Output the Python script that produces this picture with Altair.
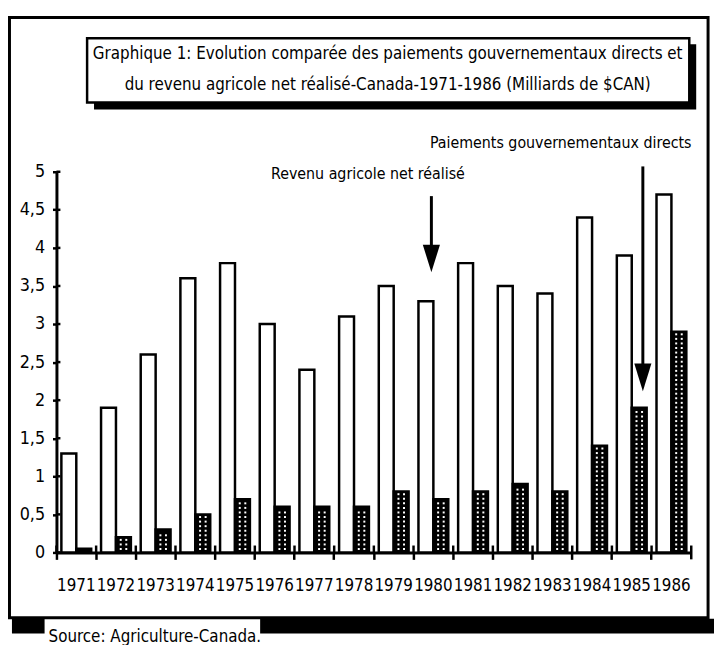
import altair as alt
import pandas as pd

# ---- data ----
YEARS = [str(y) for y in range(1971, 1987)]
REVENU = [1.3, 1.9, 2.6, 3.6, 3.8, 3.0, 2.4, 3.1, 3.5, 3.3, 3.8, 3.5, 3.4, 4.4, 3.9, 4.7]
PAIEMENTS = [0.05, 0.2, 0.3, 0.5, 0.7, 0.6, 0.6, 0.6, 0.8, 0.7, 0.8, 0.9, 0.8, 1.4, 1.9, 2.9]
SERIES = ["Revenu agricole net réalisé", "Paiements gouvernementaux directs"]
TITLE_LINES = [
    "Graphique 1: Evolution comparée des paiements gouvernementaux directs et",
    "du revenu agricole net réalisé-Canada-1971-1986 (Milliards de $CAN)",
]
SOURCE = "Source:  Agriculture-Canada."
Y_TICKS = [0, 0.5, 1, 1.5, 2, 2.5, 3, 3.5, 4, 4.5, 5]

FONT = "DejaVu Sans Condensed, Liberation Sans Narrow, sans-serif"

rows = []
for y, r, p in zip(YEARS, REVENU, PAIEMENTS):
    rows.append({"year": y, "serie": SERIES[0], "value": r})
    rows.append({"year": y, "serie": SERIES[1], "value": p})
df = pd.DataFrame(rows)
pay_df = pd.DataFrame({"year": YEARS, "value": PAIEMENTS})
years_df = pd.DataFrame({"year": YEARS})
yticks_df = pd.DataFrame({"v": Y_TICKS})
one = pd.DataFrame({"a": [0]})

xscale = alt.Scale(domain=YEARS, paddingInner=0, paddingOuter=0)
yscale = alt.Scale(domain=[0, 5], nice=False)
offscale = alt.Scale(domain=SERIES, paddingInner=0, paddingOuter=0.33)

X_AXIS = alt.Axis(labelAngle=0, labelFontSize=17, labelFont=FONT, labelColor="black",
                  domainWidth=3, domainColor="black", tickColor="black",
                  tickWidth=2.5, tickSize=7, bandPosition=0, labelPadding=18,
                  labelBound=False, labelOverlap=False, title=None, grid=False)
Y_AXIS = alt.Axis(values=Y_TICKS, labelFontSize=18, labelFont=FONT, labelColor="black",
                  labelExpr="replace(toString(datum.value), '.', ',')",
                  domainWidth=3, domainColor="black", tickColor="black",
                  tickWidth=2.5, tickSize=4, labelPadding=8, grid=False, title=None)


def X(field, bp=None):
    if bp is None:
        return alt.X(field, scale=xscale, axis=X_AXIS, title=None, sort=YEARS)
    return alt.X(field, scale=xscale, axis=X_AXIS, title=None, sort=YEARS, bandPosition=bp)


def Y(field):
    return alt.Y(field, scale=yscale, axis=Y_AXIS, title=None)


bars = alt.Chart(df).mark_bar(stroke="black", strokeWidth=2.5).encode(
    x=X("year:N"),
    xOffset=alt.XOffset("serie:N", scale=offscale, sort=SERIES),
    y=Y("value:Q"),
    fill=alt.Fill("serie:N", scale=alt.Scale(domain=SERIES, range=["white", "black"]), legend=None),
)


def dots(bp):
    return alt.Chart(pay_df).transform_calculate(
        k="sequence(0, ceil(datum.value / 0.06))"
    ).transform_flatten(["k"]).transform_calculate(
        dy="0.045 + datum.k * 0.06"
    ).transform_filter("datum.dy < datum.value - 0.03").mark_square(
        size=4, color="white", opacity=1
    ).encode(x=X("year:N", bp), y=Y("dy:Q"))


# ticks crossing the axes (as in the reference)
xticks_inner = alt.Chart(years_df).mark_rule(color="black", strokeWidth=2.5).encode(
    x=X("year:N", 0), y=alt.value(378), y2=alt.value(385))
xtick_end = alt.Chart(pd.DataFrame({"year": [YEARS[-1]]})).mark_rule(
    color="black", strokeWidth=2.5).encode(
    x=X("year:N", 1), y=alt.value(378), y2=alt.value(392))
yticks_inner = alt.Chart(yticks_df).mark_rule(color="black", strokeWidth=2.5).encode(
    y=Y("v:Q"), x=alt.value(0), x2=alt.value(4))

ARROWS = [
    {"year": "1980", "bp": 0.45, "top": 4.68, "tip": 3.67, "head": 3.86},
    {"year": "1985", "bp": 0.78, "top": 5.07, "tip": 2.12, "head": 2.3},
]
HEAD = "M-0.62,-1L0.62,-1L0,1Z"


def arrow(a):
    d = pd.DataFrame([a])
    shaft = alt.Chart(d).mark_rule(color="black", strokeWidth=3).encode(
        x=X("year:N", a["bp"]), y=Y("top:Q"), y2="head:Q")
    head = alt.Chart(d).mark_point(shape=HEAD, size=780, filled=True, color="black",
                                   opacity=1).encode(
        x=X("year:N", a["bp"]), y=Y("head:Q"))
    return shaft + head


LABELS = [
    {"text": SERIES[0], "year": "1978", "bp": 0.85, "y": 4.97},
    {"text": SERIES[1], "year": "1983", "bp": 0.71, "y": 5.38},
]


def label(l):
    d = pd.DataFrame([l])
    return alt.Chart(d).mark_text(font=FONT, fontSize=16, align="center", baseline="middle",
                                  color="black").encode(
        x=X("year:N", l["bp"]), y=Y("y:Q"), text="text:N")


# ---- decorations (frame, title box, source) ----
frame = alt.Chart(one).mark_rect(fill=None, stroke="black", strokeWidth=3).encode(
    x=alt.value(-47.5), x2=alt.value(659), y=alt.value(-156), y2=alt.value(451))
src_left = alt.Chart(one).mark_rect(color="black").encode(
    x=alt.value(-45), x2=alt.value(-12), y=alt.value(452), y2=alt.value(467))
src_right = alt.Chart(one).mark_rect(color="black").encode(
    x=alt.value(206), x2=alt.value(665), y=alt.value(452), y2=alt.value(467))
src_text = alt.Chart(one).mark_text(font=FONT, fontSize=17, align="left", baseline="alphabetic",
                                    color="black").encode(
    x=alt.value(-8), y=alt.value(476), text=alt.value(SOURCE))

tbox_shadow = alt.Chart(one).mark_rect(color="black").encode(
    x=alt.value(38), x2=alt.value(647), y=alt.value(-129), y2=alt.value(-63))
tbox = alt.Chart(one).mark_rect(fill="white", stroke="black", strokeWidth=2.5).encode(
    x=alt.value(31), x2=alt.value(640), y=alt.value(-135), y2=alt.value(-70))
t1 = alt.Chart(one).mark_text(font=FONT, fontSize=17, align="center", baseline="middle",
                              color="black").encode(
    x=alt.value(335), y=alt.value(-119), text=alt.value(TITLE_LINES[0]))
t2 = alt.Chart(one).mark_text(font=FONT, fontSize=17, align="center", baseline="middle",
                              color="black").encode(
    x=alt.value(335), y=alt.value(-88), text=alt.value(TITLE_LINES[1]))

chart = alt.layer(
    frame, src_left, src_right, src_text, tbox_shadow, tbox, t1, t2,
    bars, dots(0.62), dots(0.76),
    xticks_inner, xtick_end, yticks_inner,
    arrow(ARROWS[0]), arrow(ARROWS[1]),
    label(LABELS[0]), label(LABELS[1]),
).properties(
    width=642, height=385,
    autosize=alt.AutoSizeParams(type="none"),
    padding={"left": 49, "top": 162, "right": 23, "bottom": 90},
).configure(font=FONT).configure_view(stroke=None, strokeWidth=0).configure_axis(grid=False)

chart.save("out.html", embed_options={"renderer": "svg", "actions": False})
